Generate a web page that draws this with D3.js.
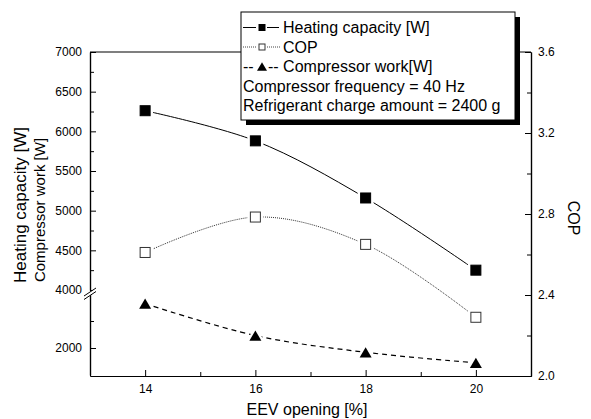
<!DOCTYPE html>
<html>
<head>
<meta charset="utf-8">
<script src="https://cdn.jsdelivr.net/npm/d3@7"></script>
<style>
  body { margin: 0; background: #fff; }
  text { font-family: "Liberation Sans", Arial, sans-serif; fill: #000; }
</style>
</head>
<body>
<svg id="chart" width="591" height="419"></svg>
<script>
// ---- data ----
const eevOpening = [14, 16, 18, 20];
const heatingCapacity = [6260, 5880, 5160, 4250];
const copValues = [2.61, 2.785, 2.65, 2.29];
const compressorWork = [2820, 2230, 1920, 1725];

const xTicks = [14, 16, 18, 20];
const xMinorTicks = [13, 15, 17, 19, 21];
const leftUpperTicks = [4000, 4500, 5000, 5500, 6000, 6500, 7000];
const leftUpperMinor = [4250, 4750, 5250, 5750, 6250, 6750];
const leftLowerTicks = [2000];
const leftLowerMinor = [2500];
const rightTicks = [2.0, 2.4, 2.8, 3.2, 3.6];
const rightMinor = [2.2, 2.6, 3.0, 3.4];

const legendLines = ["Heating capacity [W]", "COP", "-- Compressor work[W]"];
const legendNotes = ["Compressor frequency = 40 Hz", "Refrigerant charge amount = 2400 g"];

// ---- layout ----
const L = 90, R = 531, T = 52, B = 376;
const svg = d3.select("#chart");

const x = d3.scaleLinear().domain([13, 21]).range([L, R]);
const yUp = d3.scaleLinear().domain([4000, 7000]).range([290, T]);
const yLow = d3.scaleLinear().domain([1500, 3000]).range([375, 294]);
const yR = d3.scaleLinear().domain([2.0, 3.6]).range([B, T]);

function styleAxis(g, fs) {
  g.selectAll("path.domain").attr("stroke", "#000").attr("stroke-width", 1.2);
  g.selectAll(".tick line").attr("stroke", "#000").attr("stroke-width", 1);
  g.selectAll("text").style("font-size", fs + "px").attr("fill", "#000");
}

// bottom axis
const gx = svg.append("g").attr("transform", `translate(0,${B})`)
  .call(d3.axisBottom(x).tickValues(xTicks).tickSize(-6).tickSizeOuter(0).tickPadding(8).tickFormat(d3.format("d")));
styleAxis(gx, 12);
const gxm = svg.append("g").attr("transform", `translate(0,${B})`)
  .call(d3.axisBottom(x).tickValues(xMinorTicks).tickSize(-4).tickSizeOuter(0).tickFormat(""));
styleAxis(gxm, 12);

// top border
svg.append("line").attr("x1", L).attr("x2", R).attr("y1", T).attr("y2", T)
  .attr("stroke", "#000").attr("stroke-width", 1.2);

// left axis upper segment
const gu = svg.append("g").attr("transform", `translate(${L},0)`)
  .call(d3.axisLeft(yUp).tickValues(leftUpperTicks).tickSize(-6).tickSizeOuter(0).tickPadding(8).tickFormat(d3.format("d")));
styleAxis(gu, 12);
const gum = svg.append("g").attr("transform", `translate(${L},0)`)
  .call(d3.axisLeft(yUp).tickValues(leftUpperMinor).tickSize(-4).tickSizeOuter(0).tickFormat(""));
styleAxis(gum, 12);

// left axis lower segment
const gl = svg.append("g").attr("transform", `translate(${L},0)`)
  .call(d3.axisLeft(yLow).tickValues(leftLowerTicks).tickSize(-6).tickSizeOuter(0).tickPadding(8).tickFormat(d3.format("d")));
styleAxis(gl, 12);
const glm = svg.append("g").attr("transform", `translate(${L},0)`)
  .call(d3.axisLeft(yLow).tickValues(leftLowerMinor).tickSize(-4).tickSizeOuter(0).tickFormat(""));
styleAxis(glm, 12);

// axis break marks
svg.append("path")
  .attr("d", `M${L - 6},${296} L${L + 6},${288} L${L + 6},${291.5} L${L - 6},${299.5} Z`)
  .attr("fill", "#fff");
svg.append("line").attr("x1", L - 6).attr("y1", 296).attr("x2", L + 6).attr("y2", 288).attr("stroke", "#000").attr("stroke-width", 1);
svg.append("line").attr("x1", L - 6).attr("y1", 299.5).attr("x2", L + 6).attr("y2", 291.5).attr("stroke", "#000").attr("stroke-width", 1);

// right axis
const gr = svg.append("g").attr("transform", `translate(${R},0)`)
  .call(d3.axisRight(yR).tickValues(rightTicks).tickSize(-6).tickSizeOuter(0).tickPadding(7).tickFormat(d3.format(".1f")));
styleAxis(gr, 12);
const grm = svg.append("g").attr("transform", `translate(${R},0)`)
  .call(d3.axisRight(yR).tickValues(rightMinor).tickSize(-4).tickSizeOuter(0).tickFormat(""));
styleAxis(grm, 12);

// axis titles
svg.append("text").attr("transform", "translate(26,205) rotate(-90)")
  .attr("text-anchor", "middle").style("font-size", "17px").text("Heating capacity [W]");
svg.append("text").attr("transform", "translate(45,210) rotate(-90)")
  .attr("text-anchor", "middle").style("font-size", "15px").text("Compressor work [W]");
svg.append("text").attr("transform", "translate(568,218) rotate(90)")
  .attr("text-anchor", "middle").style("font-size", "16px").text("COP");
svg.append("text").attr("x", 307).attr("y", 415)
  .attr("text-anchor", "middle").style("font-size", "16px").text("EEV opening [%]");

// ---- series ----
const curve = d3.curveCatmullRom.alpha(0.5);
const lineHeat = d3.line().curve(curve).x((d, i) => x(eevOpening[i])).y(d => yUp(d));
const lineCop = d3.line().curve(curve).x((d, i) => x(eevOpening[i])).y(d => yR(d));
const lineWork = d3.line().curve(curve).x((d, i) => x(eevOpening[i])).y(d => yLow(d));

svg.append("path").datum(heatingCapacity).attr("d", lineHeat)
  .attr("fill", "none").attr("stroke", "#000").attr("stroke-width", 1);
svg.append("path").datum(copValues).attr("d", lineCop)
  .attr("fill", "none").attr("stroke", "#333").attr("stroke-width", 1).attr("stroke-dasharray", "1,1");
svg.append("path").datum(compressorWork).attr("d", lineWork)
  .attr("fill", "none").attr("stroke", "#000").attr("stroke-width", 1.2).attr("stroke-dasharray", "5,4");

function square(g, cx, cy, s, filled) {
  g.append("rect").attr("x", cx - s / 2 - 3).attr("y", cy - s / 2 - 3).attr("width", s + 6).attr("height", s + 6).attr("fill", "#fff");
  g.append("rect").attr("x", cx - s / 2).attr("y", cy - s / 2).attr("width", s).attr("height", s)
    .attr("fill", filled ? "#000" : "#fff").attr("stroke", filled ? "#000" : "#333").attr("stroke-width", 1);
}
function triangle(g, cx, cy, w, halo) {
  const h = w * 0.85;
  if (halo) {
    g.append("path").attr("d", `M${cx},${cy - h / 2 - 4} L${cx + w / 2 + 4},${cy + h / 2 + 2} L${cx - w / 2 - 4},${cy + h / 2 + 2} Z`).attr("fill", "#fff");
  }
  g.append("path").attr("d", `M${cx},${cy - h / 2} L${cx + w / 2},${cy + h / 2} L${cx - w / 2},${cy + h / 2} Z`).attr("fill", "#000");
}

const gm = svg.append("g");
heatingCapacity.forEach((v, i) => square(gm, x(eevOpening[i]), yUp(v), 10, true));
copValues.forEach((v, i) => square(gm, x(eevOpening[i]), yR(v), 10, false));
compressorWork.forEach((v, i) => triangle(gm, x(eevOpening[i]), yLow(v), 12, true));

// ---- legend ----
const lg = svg.append("g");
const bx = 241, by = 12, bw = 274, bh = 108;
lg.append("rect").attr("x", bx + 5).attr("y", by + 5).attr("width", bw).attr("height", bh).attr("fill", "#000");
lg.append("rect").attr("x", bx).attr("y", by).attr("width", bw).attr("height", bh)
  .attr("fill", "#fff").attr("stroke", "#000").attr("stroke-width", 1);

const baselines = [33, 52.5, 72, 91.5, 111];
const symX = 262;
// row 1
let cy = baselines[0] - 5.5;
lg.append("line").attr("x1", 243).attr("x2", 256).attr("y1", cy).attr("y2", cy).attr("stroke", "#000");
lg.append("line").attr("x1", 267).attr("x2", 279).attr("y1", cy).attr("y2", cy).attr("stroke", "#000");
lg.append("rect").attr("x", symX - 3.5).attr("y", cy - 3.5).attr("width", 7).attr("height", 7).attr("fill", "#000");
lg.append("text").attr("x", 283).attr("y", baselines[0]).style("font-size", "16px").text(legendLines[0]);
// row 2
cy = baselines[1] - 5.5;
lg.append("line").attr("x1", 243).attr("x2", 257).attr("y1", cy).attr("y2", cy).attr("stroke", "#444").attr("stroke-dasharray", "1,1");
lg.append("line").attr("x1", 267).attr("x2", 280).attr("y1", cy).attr("y2", cy).attr("stroke", "#444").attr("stroke-dasharray", "1,1");
lg.append("rect").attr("x", symX - 3).attr("y", cy - 3).attr("width", 6).attr("height", 6).attr("fill", "#fff").attr("stroke", "#333");
lg.append("text").attr("x", 283).attr("y", baselines[1]).style("font-size", "16px").text(legendLines[1]);
// row 3
cy = baselines[2] - 5.5;
lg.append("text").attr("x", 243).attr("y", baselines[2]).style("font-size", "16px").text("--");
triangle(lg, symX, cy, 10, false);
lg.append("text").attr("x", 268).attr("y", baselines[2]).style("font-size", "16px").text(legendLines[2]);
// notes
lg.append("text").attr("x", 243).attr("y", baselines[3]).style("font-size", "16px").text(legendNotes[0]);
lg.append("text").attr("x", 243).attr("y", baselines[4]).style("font-size", "16px").text(legendNotes[1]);
</script>
</body>
</html>
